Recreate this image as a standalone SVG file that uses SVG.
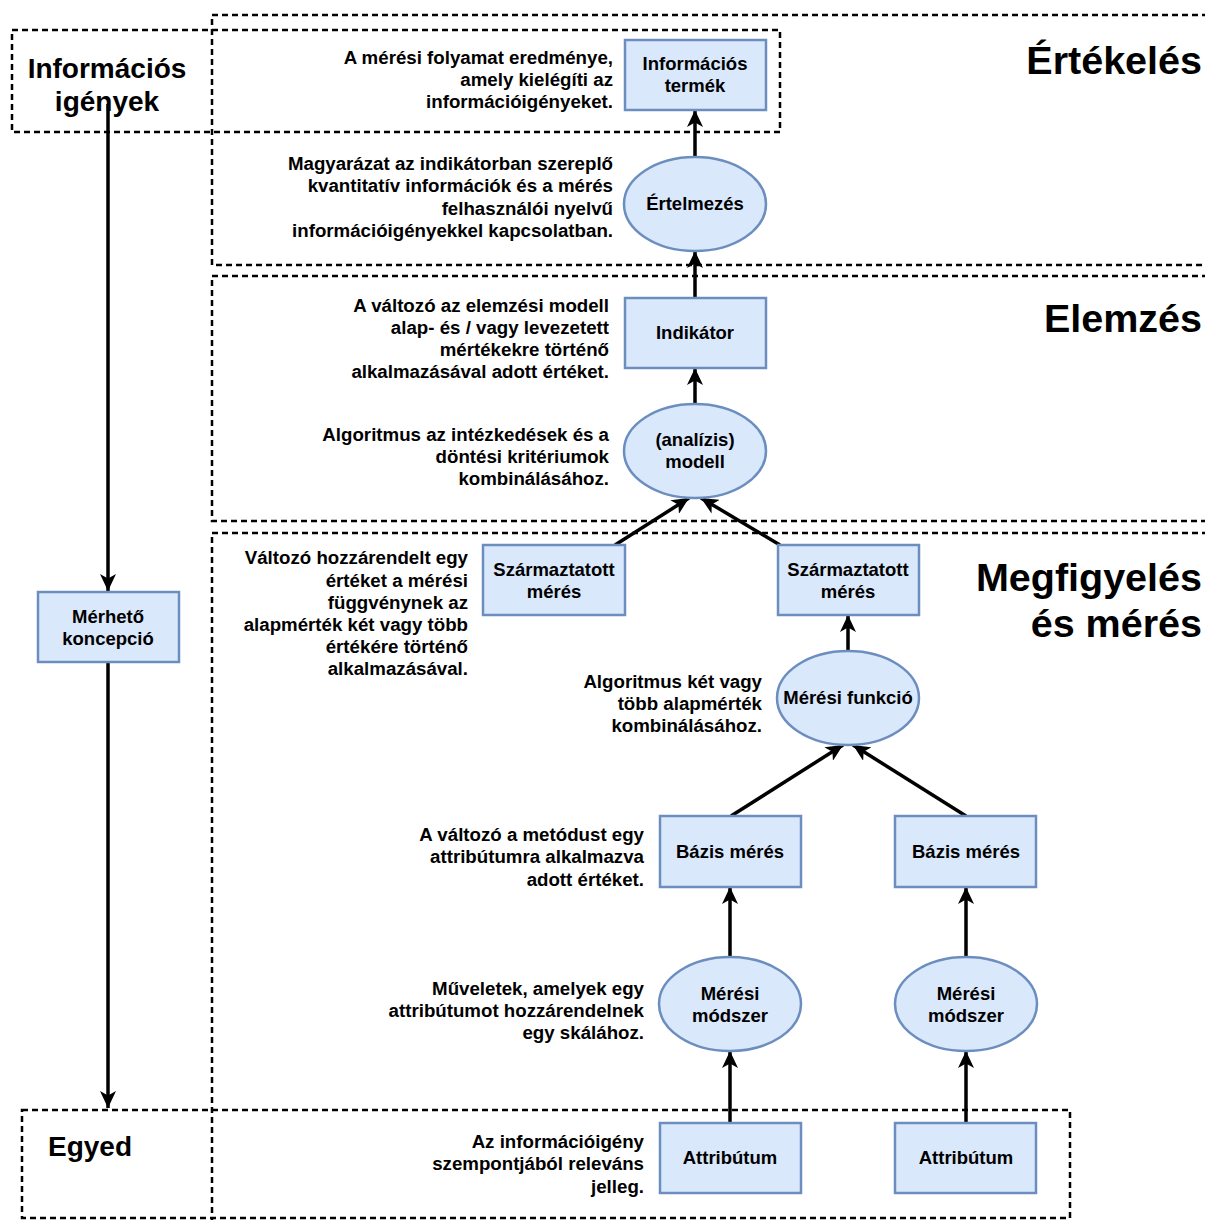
<svg xmlns="http://www.w3.org/2000/svg" width="1205" height="1220" viewBox="0 0 1205 1220">
  <defs>
    <marker id="arrow" markerUnits="userSpaceOnUse" markerWidth="18" markerHeight="16" viewBox="0 0 18 16" refX="17" refY="8" orient="auto">
      <path d="M0,0 L17,8 L0,16 L4.5,8 z" fill="#000"/>
    </marker>
    <style>
      .zone { fill: none; stroke: #000; stroke-width: 2.5; stroke-dasharray: 6 4; }
      .box { fill: #dae8fc; stroke: #6c8ebf; stroke-width: 2.5; }
      .edge { stroke: #000; stroke-width: 3.5; fill: none; marker-end: url(#arrow); }
      text { font-family: "Liberation Sans", Arial, sans-serif; font-weight: bold; fill: #000; }
      .lbl { font-size: 18.5px; text-anchor: middle; }
      .desc { font-size: 18.7px; text-anchor: end; }
      .head { font-size: 39.5px; text-anchor: end; }
      .side { font-size: 28px; text-anchor: middle; }
    </style>
  </defs>

  <!-- swimlane zones -->
  <g id="zones">
    <rect class="zone" x="212" y="15" width="1000" height="250"/>
    <rect class="zone" x="212" y="276" width="1000" height="245"/>
    <rect class="zone" x="212" y="533" width="1000" height="700"/>
    <rect class="zone" x="12" y="30" width="768" height="102"/>
    <rect class="zone" x="22" y="1110" width="1048" height="108"/>
  </g>

  <!-- zone titles -->
  <g id="titles">
    <text class="head" x="1202" y="74">Értékelés</text>
    <text class="head" x="1202" y="332">Elemzés</text>
    <text class="head" x="1202" y="591">Megfigyelés</text>
    <text class="head" x="1202" y="637">és mérés</text>
    <text class="side" x="107" y="78">Információs</text>
    <text class="side" x="107" y="111">igények</text>
    <text class="side" x="90" y="1156">Egyed</text>
  </g>

  <!-- connectors -->
  <g id="connectors">
    <line class="edge" x1="108" y1="104" x2="108" y2="591"/>
    <line class="edge" x1="108" y1="662" x2="108" y2="1108"/>
    <line class="edge" x1="695" y1="157" x2="695" y2="110"/>
    <line class="edge" x1="695" y1="298" x2="695" y2="251"/>
    <line class="edge" x1="695" y1="404" x2="695" y2="368"/>
    <line class="edge" x1="615" y1="545" x2="689" y2="498"/>
    <line class="edge" x1="780" y1="545" x2="701" y2="498"/>
    <line class="edge" x1="848" y1="651" x2="848" y2="615"/>
    <line class="edge" x1="731" y1="816" x2="843" y2="745"/>
    <line class="edge" x1="966" y1="816" x2="853" y2="745"/>
    <line class="edge" x1="730" y1="957" x2="730" y2="887"/>
    <line class="edge" x1="966" y1="957" x2="966" y2="887"/>
    <line class="edge" x1="730" y1="1123" x2="730" y2="1051"/>
    <line class="edge" x1="966" y1="1123" x2="966" y2="1051"/>
  </g>

  <!-- nodes -->
  <g id="informacios-termek">
    <rect class="box" x="625" y="40" width="141" height="70"/>
    <text class="lbl" x="695" y="70">Információs</text>
    <text class="lbl" x="695" y="92">termék</text>
    <text class="desc" x="613" y="64">A mérési folyamat eredménye,</text>
    <text class="desc" x="613" y="86">amely kielégíti az</text>
    <text class="desc" x="613" y="108">információigényeket.</text>
  </g>

  <g id="ertelmezes">
    <ellipse class="box" cx="695" cy="204" rx="71" ry="47"/>
    <text class="lbl" x="695" y="210">Értelmezés</text>
    <text class="desc" x="613" y="170">Magyarázat az indikátorban szereplő</text>
    <text class="desc" x="613" y="192">kvantitatív információk és a mérés</text>
    <text class="desc" x="613" y="215">felhasználói nyelvű</text>
    <text class="desc" x="613" y="237">információigényekkel kapcsolatban.</text>
  </g>

  <g id="indikator">
    <rect class="box" x="625" y="298" width="141" height="70"/>
    <text class="lbl" x="695" y="339">Indikátor</text>
    <text class="desc" x="609" y="312">A változó az elemzési modell</text>
    <text class="desc" x="609" y="334">alap- és / vagy levezetett</text>
    <text class="desc" x="609" y="356">mértékekre történő</text>
    <text class="desc" x="609" y="378">alkalmazásával adott értéket.</text>
  </g>

  <g id="modell">
    <ellipse class="box" cx="695" cy="451" rx="71" ry="47"/>
    <text class="lbl" x="695" y="446">(analízis)</text>
    <text class="lbl" x="695" y="468">modell</text>
    <text class="desc" x="609" y="441">Algoritmus az intézkedések és a</text>
    <text class="desc" x="609" y="463">döntési kritériumok</text>
    <text class="desc" x="609" y="485">kombinálásához.</text>
  </g>

  <g id="szarmaztatott-1">
    <rect class="box" x="483" y="545" width="142" height="70"/>
    <text class="lbl" x="554" y="576">Származtatott</text>
    <text class="lbl" x="554" y="598">mérés</text>
    <text class="desc" x="468" y="564">Változó hozzárendelt egy</text>
    <text class="desc" x="468" y="587">értéket a mérési</text>
    <text class="desc" x="468" y="609">függvénynek az</text>
    <text class="desc" x="468" y="631">alapmérték két vagy több</text>
    <text class="desc" x="468" y="653">értékére történő</text>
    <text class="desc" x="468" y="675">alkalmazásával.</text>
  </g>

  <g id="szarmaztatott-2">
    <rect class="box" x="778" y="545" width="141" height="70"/>
    <text class="lbl" x="848" y="576">Származtatott</text>
    <text class="lbl" x="848" y="598">mérés</text>
  </g>

  <g id="meresi-funkcio">
    <ellipse class="box" cx="848" cy="698" rx="71" ry="47"/>
    <text class="lbl" x="848" y="704">Mérési funkció</text>
    <text class="desc" x="762" y="688">Algoritmus két vagy</text>
    <text class="desc" x="762" y="710">több alapmérték</text>
    <text class="desc" x="762" y="732">kombinálásához.</text>
  </g>

  <g id="bazis-1">
    <rect class="box" x="660" y="816" width="141" height="71"/>
    <text class="lbl" x="730" y="858">Bázis mérés</text>
    <text class="desc" x="644" y="841">A változó a metódust egy</text>
    <text class="desc" x="644" y="863">attribútumra alkalmazva</text>
    <text class="desc" x="644" y="886">adott értéket.</text>
  </g>

  <g id="bazis-2">
    <rect class="box" x="895" y="816" width="141" height="71"/>
    <text class="lbl" x="966" y="858">Bázis mérés</text>
  </g>

  <g id="modszer-1">
    <ellipse class="box" cx="730" cy="1004" rx="71" ry="47"/>
    <text class="lbl" x="730" y="1000">Mérési</text>
    <text class="lbl" x="730" y="1022">módszer</text>
    <text class="desc" x="644" y="995">Műveletek, amelyek egy</text>
    <text class="desc" x="644" y="1017">attribútumot hozzárendelnek</text>
    <text class="desc" x="644" y="1039">egy skálához.</text>
  </g>

  <g id="modszer-2">
    <ellipse class="box" cx="966" cy="1004" rx="71" ry="47"/>
    <text class="lbl" x="966" y="1000">Mérési</text>
    <text class="lbl" x="966" y="1022">módszer</text>
  </g>

  <g id="attributum-1">
    <rect class="box" x="660" y="1123" width="141" height="70"/>
    <text class="lbl" x="730" y="1164">Attribútum</text>
    <text class="desc" x="644" y="1148">Az információigény</text>
    <text class="desc" x="644" y="1170">szempontjából releváns</text>
    <text class="desc" x="644" y="1193">jelleg.</text>
  </g>

  <g id="attributum-2">
    <rect class="box" x="895" y="1123" width="141" height="70"/>
    <text class="lbl" x="966" y="1164">Attribútum</text>
  </g>

  <g id="merheto-koncepcio">
    <rect class="box" x="38" y="592" width="141" height="70"/>
    <text class="lbl" x="108" y="623">Mérhető</text>
    <text class="lbl" x="108" y="645">koncepció</text>
  </g>
</svg>
